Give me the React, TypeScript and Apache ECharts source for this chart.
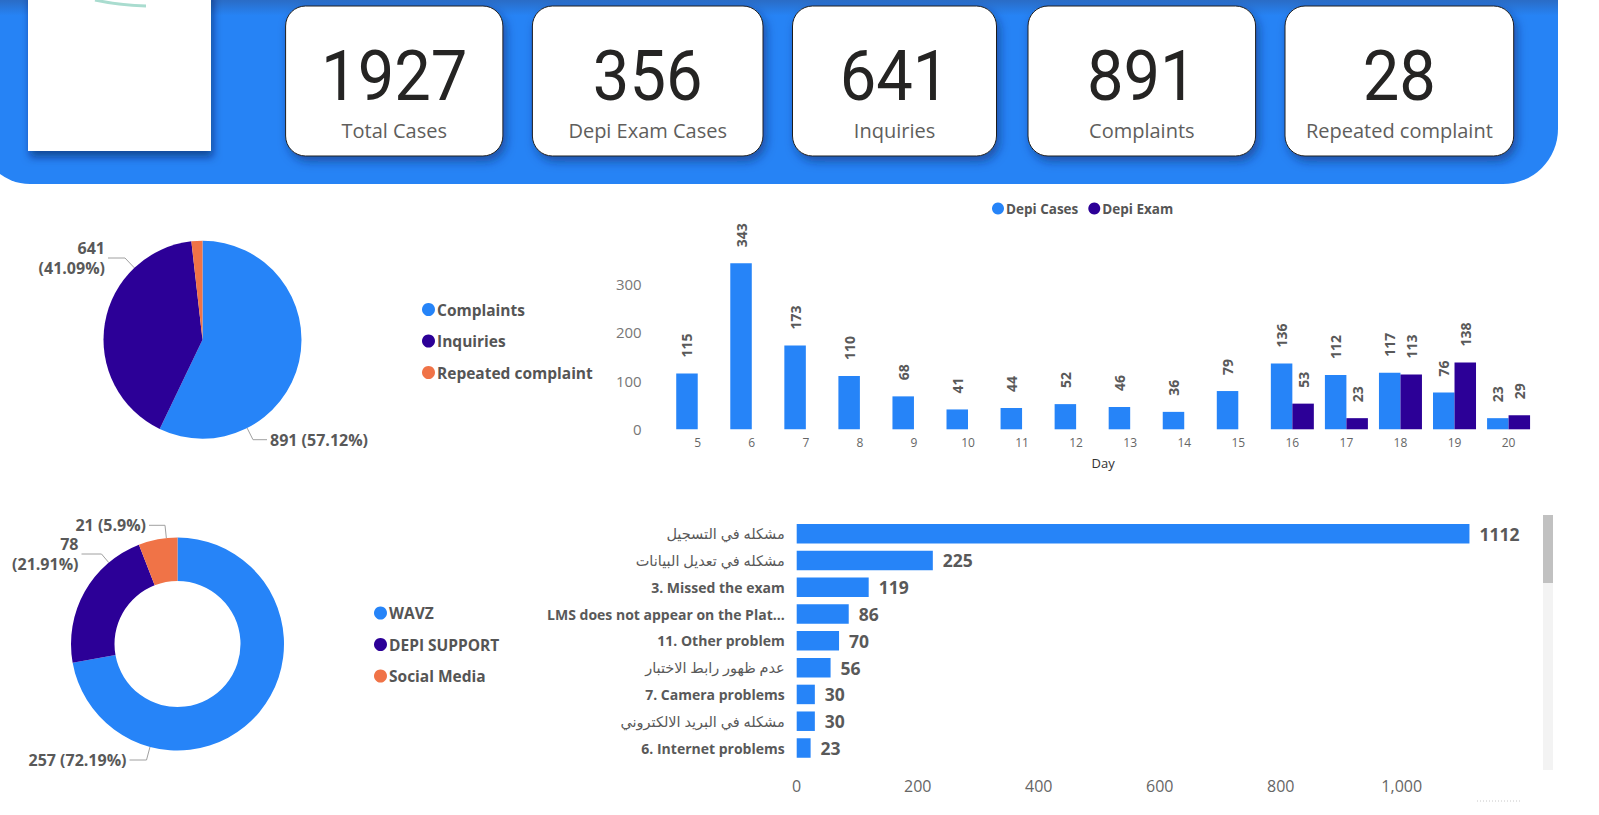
import React, { useEffect, useRef } from 'react';
import * as echarts from 'echarts';

// ---------- data ----------
const kpiValues = [1927, 356, 641, 891, 28];
const kpiLabels = ['Total Cases', 'Depi Exam Cases', 'Inquiries', 'Complaints', 'Repeated complaint'];

const typeNames = ['Complaints', 'Inquiries', 'Repeated complaint'];
const typeValues = [891, 641, 28];

const days = ['5', '6', '7', '8', '9', '10', '11', '12', '13', '14', '15', '16', '17', '18', '19', '20'];
const depiCases = [115, 343, 173, 110, 68, 41, 44, 52, 46, 36, 79, 136, 112, 117, 76, 23];
const depiExam = [null, null, null, null, null, null, null, null, null, null, null, 53, 23, 113, 138, 29];

const channelNames = ['WAVZ', 'DEPI SUPPORT', 'Social Media'];
const channelValues = [257, 78, 21];

const problemNames = [
  'مشكله في التسجيل',
  'مشكله في تعديل البيانات',
  '3. Missed the exam',
  'LMS does not appear on the Plat...',
  '11. Other problem',
  'عدم ظهور رابط الاختبار',
  '7. Camera problems',
  'مشكله في البريد الالكتروني',
  '6. Internet problems',
];
const problemValues = [1112, 225, 119, 86, 70, 56, 30, 30, 23];

// ---------- style / layout ----------
const FONT = "'Open Sans', 'DejaVu Sans', sans-serif";
const BLUE = '#2684F8';
const PURPLE = '#2C0097';
const ORANGE = '#F07347';
const LABEL = '#595959';

const cardBoxes = [
  [285.6, 502.9],
  [532.4, 763],
  [792.5, 996.5],
  [1028, 1255.6],
  [1285, 1513.7],
];

const P1 = { cx: 202.5, cy: 339.7, r: 99 };
const P2 = { cx: 177.5, cy: 644, r0: 63, r: 106.5 };
const wrapNames = ['Inquiries', 'DEPI SUPPORT'];

const pie1Place: any[] = [
  { dx: 67.5, dy: 100, align: 'left', len: 14 },
  { dx: -97.5, dy: -81.7, align: 'right', len: 17 },
  null,
];
const pie2Place: any[] = [
  { dx: -51, dy: 116, align: 'right', len: 17 },
  { dx: -99, dy: -90, align: 'right', len: 20 },
  { dx: -31.5, dy: -118.7, align: 'right', len: 16 },
];

function pieLabel(p: any) {
  return wrapNames.indexOf(p.name) >= 0
    ? `${p.value}\n(${p.percent}%)`
    : `${p.value} (${p.percent}%)`;
}

function placeLabels(c: any, place: any[]) {
  return (p: any) => {
    const pl = place[p.dataIndex];
    if (!pl) return {};
    const x = c.cx + pl.dx;
    const y = c.cy + pl.dy;
    const sgn = pl.align === 'right' ? 1 : -1;
    const ax = x + sgn * 3;
    const ex = ax + sgn * pl.len;
    const ddx = ex - c.cx;
    const ddy = y - c.cy;
    const d = Math.hypot(ddx, ddy);
    const px = c.cx + (ddx / d) * c.r;
    const py = c.cy + (ddy / d) * c.r;
    return {
      x,
      y,
      align: pl.align,
      verticalAlign: 'middle',
      labelLinePoints: [
        [px, py],
        [ex, y],
        [ax, y],
      ],
    };
  };
}

function buildOption() {
  const graphics: any[] = [];
  graphics.push({
    type: 'rect',
    shape: { x: -20, y: -60, width: 1578, height: 244, r: [0, 0, 55, 50] },
    style: {
      fill: new echarts.graphic.LinearGradient(0, 0, 0, 1, [
        { offset: 0, color: '#2A66BA' },
        { offset: 0.25, color: '#2A6DC8' },
        { offset: 0.31, color: '#2683F5' },
        { offset: 1, color: '#2683F5' },
      ]),
    },
    z: 0,
  });
  // logo box
  graphics.push({
    type: 'rect',
    shape: { x: 28, y: -10, width: 183, height: 161 },
    style: {
      fill: '#ffffff',
      shadowBlur: 8,
      shadowOffsetX: 2,
      shadowOffsetY: 6,
      shadowColor: 'rgba(0,20,70,0.55)',
    },
    z: 1,
  });
  graphics.push({
    type: 'bezierCurve',
    shape: { x1: 95, y1: 0, x2: 146, y2: 6, cpx1: 118, cpy1: 5 },
    style: { stroke: '#A9DCCF', lineWidth: 3, fill: 'none' },
    z: 2,
  });
  cardBoxes.forEach(([x0, x1], i) => {
    const cx = (x0 + x1) / 2;
    graphics.push({
      type: 'rect',
      shape: { x: x0, y: 6, width: x1 - x0, height: 150, r: 20 },
      style: {
        fill: '#ffffff',
        stroke: '#1f1f1f',
        lineWidth: 1,
        shadowBlur: 10,
        shadowOffsetX: 3,
        shadowOffsetY: 5,
        shadowColor: 'rgba(10,30,90,0.5)',
      },
      z: 1,
    });
    graphics.push({
      type: 'text',
      x: cx,
      y: 76,
      scaleX: 0.93,
      style: {
        text: String(kpiValues[i]),
        fontSize: 70,
        fontFamily: 'Roboto',
        fontWeight: 400,
        fill: '#252423',
        align: 'center',
        verticalAlign: 'middle',
      },
      z: 3,
    });
    graphics.push({
      type: 'text',
      x: cx,
      y: 130,
      style: {
        text: kpiLabels[i],
        fontSize: 20,
        fontFamily: FONT,
        fill: '#605E5C',
        align: 'center',
        verticalAlign: 'middle',
      },
      z: 3,
    });
  });
  // scrollbar
  graphics.push({
    type: 'rect',
    shape: { x: 1543, y: 515, width: 10, height: 255 },
    style: { fill: '#F3F3F3' },
  });
  graphics.push({
    type: 'rect',
    shape: { x: 1543, y: 515, width: 10, height: 68 },
    style: { fill: '#C1C1C1' },
  });
  graphics.push({
    type: 'line',
    shape: { x1: 1477, y1: 801, x2: 1520, y2: 801 },
    style: { stroke: '#C8C8C8', lineWidth: 1, lineDash: [1, 2] },
  });

  const legendText = {
    fontSize: 15.5,
    fontWeight: 'bold',
    color: '#555555',
    fontFamily: FONT,
    padding: [0, 0, 0, -3],
  };

  const pieLabelStyle = {
    show: true,
    formatter: pieLabel,
    fontSize: 16,
    fontWeight: 'bold',
    color: LABEL,
    lineHeight: 20,
    width: 130,
  };

  const rotLabel = {
    show: true,
    position: 'top',
    rotate: 90,
    align: 'left',
    verticalAlign: 'middle',
    distance: 16,
    fontSize: 14,
    fontWeight: 'bold',
    color: LABEL,
  };

  return {
    animation: false,
    textStyle: { fontFamily: FONT },
    graphic: graphics,
    legend: [
      {
        data: typeNames,
        orient: 'vertical',
        left: 417,
        top: 296.5,
        icon: 'circle',
        itemWidth: 13,
        itemHeight: 13,
        itemGap: 15.5,
        textStyle: legendText,
      },
      {
        data: ['Depi Cases', 'Depi Exam'],
        orient: 'horizontal',
        left: 987,
        top: 196.5,
        icon: 'circle',
        itemWidth: 12,
        itemHeight: 12,
        itemGap: 10,
        textStyle: { ...legendText, fontSize: 13.5 },
      },
      {
        data: channelNames,
        orient: 'vertical',
        left: 369,
        top: 600,
        icon: 'circle',
        itemWidth: 13,
        itemHeight: 13,
        itemGap: 15.5,
        textStyle: legendText,
      },
    ],
    grid: [
      { left: 670.7, right: 63.4, top: 259.8, bottom: 385.7 },
      { left: 796.7, right: 88.4, top: 520.3, bottom: 53.6 },
    ],
    xAxis: [
      {
        gridIndex: 0,
        type: 'category',
        data: days,
        name: 'Day',
        nameLocation: 'middle',
        nameGap: 27,
        nameTextStyle: { fontSize: 13, color: '#333333' },
        axisLine: { show: false },
        axisTick: { show: false },
        axisLabel: { fontSize: 12, color: '#666666', margin: 7 },
      },
      {
        gridIndex: 1,
        type: 'value',
        min: 0,
        max: 1180,
        interval: 200,
        axisLine: { show: false },
        axisTick: { show: false },
        splitLine: { show: false },
        axisLabel: { fontSize: 16, color: '#666666', margin: 17, showMaxLabel: false },
      },
    ],
    yAxis: [
      {
        gridIndex: 0,
        type: 'value',
        min: 0,
        max: 350,
        interval: 100,
        axisLine: { show: false },
        axisTick: { show: false },
        splitLine: { show: false },
        axisLabel: { fontSize: 15, color: '#777777', margin: 29, showMaxLabel: false },
      },
      {
        gridIndex: 1,
        type: 'category',
        inverse: true,
        data: problemNames,
        axisLine: { show: false },
        axisTick: { show: false },
        axisLabel: {
          margin: 12,
          color: LABEL,
          formatter: (v: string) => (/[\u0600-\u06FF]/.test(v) ? `{ar|${v}}` : `{en|${v}}`),
          rich: {
            ar: { fontSize: 14.5, fontWeight: 'normal', color: LABEL, fontFamily: FONT },
            en: { fontSize: 14, fontWeight: 'bold', color: LABEL, fontFamily: FONT },
          },
        },
      },
    ],
    series: [
      {
        type: 'bar',
        name: 'Depi Cases',
        xAxisIndex: 0,
        yAxisIndex: 0,
        data: depiCases,
        barWidth: 21.5,
        barGap: '0%',
        itemStyle: { color: BLUE },
        label: rotLabel,
      },
      {
        type: 'bar',
        name: 'Depi Exam',
        xAxisIndex: 0,
        yAxisIndex: 0,
        data: depiExam,
        barWidth: 21.5,
        barGap: '0%',
        itemStyle: { color: PURPLE },
        label: rotLabel,
      },
      {
        type: 'bar',
        name: 'Count',
        xAxisIndex: 1,
        yAxisIndex: 1,
        data: problemValues,
        barWidth: 19.5,
        itemStyle: { color: BLUE },
        label: {
          show: true,
          position: 'right',
          distance: 10,
          fontSize: 17.5,
          fontWeight: 'bold',
          color: LABEL,
        },
      },
      {
        type: 'pie',
        name: 'Case Type',
        center: [P1.cx, P1.cy],
        radius: P1.r,
        startAngle: 90,
        clockwise: true,
        label: pieLabelStyle,
        labelLine: { show: true, length: 8, length2: 16, lineStyle: { color: '#A0A0A0', width: 1 } },
        labelLayout: placeLabels(P1, pie1Place),
        data: typeNames.map((n, i) => ({
          name: n,
          value: typeValues[i],
          itemStyle: { color: [BLUE, PURPLE, ORANGE][i] },
          ...(i === 2 ? { label: { show: false }, labelLine: { show: false } } : {}),
        })),
      },
      {
        type: 'pie',
        name: 'Channel',
        center: [P2.cx, P2.cy],
        radius: [P2.r0, P2.r],
        startAngle: 90,
        clockwise: true,
        label: pieLabelStyle,
        labelLine: { show: true, length: 8, length2: 17, lineStyle: { color: '#A0A0A0', width: 1 } },
        labelLayout: placeLabels(P2, pie2Place),
        data: channelNames.map((n, i) => ({
          name: n,
          value: channelValues[i],
          itemStyle: { color: [BLUE, PURPLE, ORANGE][i] },
        })),
      },
    ],
  };
}

export default function App() {
  const ref = useRef<HTMLDivElement>(null);
  useEffect(() => {
    const chart = echarts.init(ref.current as HTMLDivElement, undefined, { renderer: 'svg' });
    chart.setOption(buildOption() as any);
    return () => chart.dispose();
  }, []);
  return (
    <div
      ref={ref}
      style={{ position: 'fixed', left: 0, top: 0, width: 1599, height: 815, background: '#ffffff' }}
    />
  );
}
